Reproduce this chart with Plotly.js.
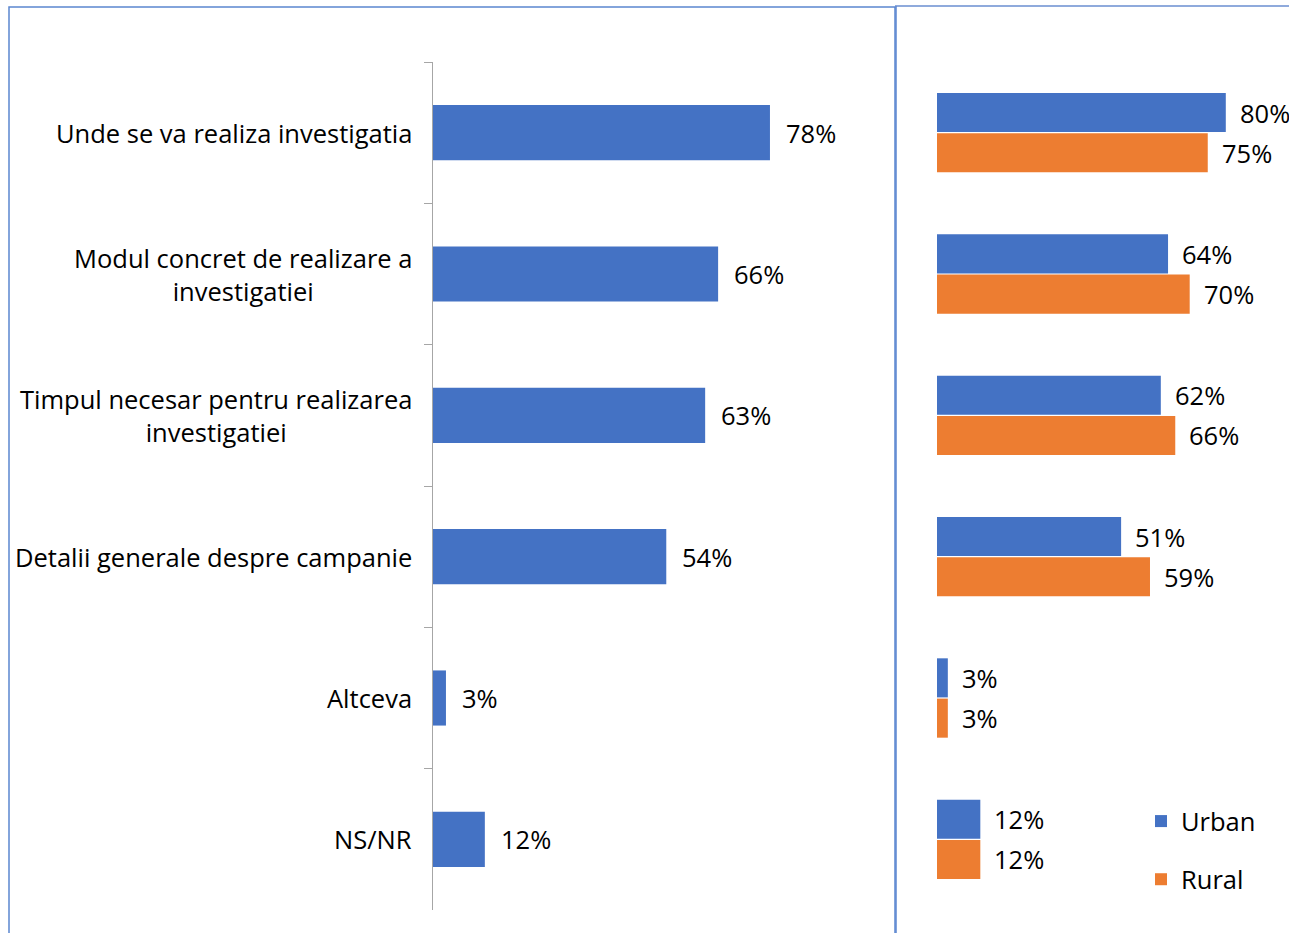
<!DOCTYPE html>
<html>
<head>
<meta charset="utf-8">
<script src="https://cdn.plot.ly/plotly-3.0.1.min.js"></script>
<style>html,body{margin:0;padding:0;background:#fff;}#chart{width:1289px;height:933px;}</style>
</head>
<body>
<div id="chart"></div>
<script>
// ---- data ----
const categories = [
  "Unde se va realiza investigatia",
  "Modul concret de realizare a<br>investigatiei",
  "Timpul necesar pentru realizarea<br>investigatiei",
  "Detalii generale despre campanie",
  "Altceva",
  "NS/NR"
];
const totalValues = [78, 66, 63, 54, 3, 12];
const urbanValues = [80, 64, 62, 51, 3, 12];
const ruralValues = [75, 70, 66, 59, 3, 12];
const seriesNames = ["Urban", "Rural"];

const BLUE = "#4472C4", ORANGE = "#ED7D31";
const FONT = "'Open Sans', Lato, sans-serif";
const FS = 25.5;
const W = 1289, H = 933, T = 62, B = 23;
const py = p => (H - B - p) / (H - T - B);
const px = p => p / W;

const traces = [
  {type: "bar", orientation: "h", x: totalValues, y: categories, xaxis: "x", yaxis: "y",
   width: 0.39, marker: {color: BLUE}, showlegend: false, hoverinfo: "skip"},
  {type: "bar", orientation: "h", x: urbanValues, y: categories, xaxis: "x2", yaxis: "y2",
   name: seriesNames[0], legendgroup: "u", marker: {color: BLUE}, hoverinfo: "skip"},
  {type: "bar", orientation: "h", x: ruralValues, y: categories, xaxis: "x2", yaxis: "y2",
   name: seriesNames[1], legendgroup: "r", marker: {color: ORANGE}, hoverinfo: "skip"}
];

const annotations = [];
categories.forEach((c, i) => {
  annotations.push({xref: "paper", x: px(414), xanchor: "right", yref: "y", y: c, yanchor: "middle",
    text: c, align: "center", showarrow: false, font: {family: FONT, size: FS, color: "#000"}});
  annotations.push({xref: "x", x: totalValues[i], xanchor: "left", xshift: 14, yref: "y", y: c,
    text: totalValues[i] + "%", showarrow: false, font: {family: FONT, size: FS, color: "#000"}});
  annotations.push({xref: "x2", x: urbanValues[i], xanchor: "left", xshift: 12, yref: "y2", y: c, yshift: 20,
    text: urbanValues[i] + "%", showarrow: false, font: {family: FONT, size: FS, color: "#000"}});
  annotations.push({xref: "x2", x: ruralValues[i], xanchor: "left", xshift: 12, yref: "y2", y: c, yshift: -20,
    text: ruralValues[i] + "%", showarrow: false, font: {family: FONT, size: FS, color: "#000"}});
});

const layout = {
  width: W, height: H,
  margin: {l: 0, r: 0, t: T, b: B},
  paper_bgcolor: "#fff", plot_bgcolor: "rgba(0,0,0,0)",
  font: {family: FONT, size: FS, color: "#000"},
  barmode: "group", bargap: 0.43, bargroupgap: 0.03,
  xaxis: {domain: [px(433), px(865)], range: [0, 100], visible: false, fixedrange: true},
  yaxis: {domain: [0, 1], type: "category", autorange: "reversed",
    showline: true, linecolor: "#A6A6A6", linewidth: 1.3, ticks: "outside", tickson: "boundaries",
    ticklen: 8, tickcolor: "#A6A6A6", showticklabels: false, showgrid: false, zeroline: false},
  xaxis2: {domain: [px(937), 1], range: [0, 100 * (W - 937) / 361], visible: false, anchor: "y2"},
  yaxis2: {domain: [0, 1], type: "category", autorange: "reversed", anchor: "x2",
    showline: false, ticks: "", showticklabels: false, showgrid: false, zeroline: false},
  showlegend: true,
  legend: {x: px(1141), xanchor: "left", y: py(798), yanchor: "top", traceorder: "grouped",
    tracegroupgap: 22, font: {family: FONT, size: FS, color: "#000"}, bgcolor: "rgba(0,0,0,0)"},
  annotations: annotations,
  shapes: [
    {type: "rect", xref: "paper", yref: "paper", x0: px(9), x1: px(895), y0: py(7), y1: py(945),
     line: {color: "#5B86D0", width: 1.5}},
    {type: "line", xref: "paper", yref: "paper", x0: px(895), x1: 1, y0: py(6), y1: py(6),
     line: {color: "#8FAADC", width: 2}},
    {type: "line", xref: "paper", yref: "paper", x0: px(896), x1: px(896), y0: py(6), y1: py(945),
     line: {color: "#5B86D0", width: 1.5}}
  ]
};

Plotly.newPlot("chart", traces, layout, {staticPlot: true, displayModeBar: false});
</script>
</body>
</html>
